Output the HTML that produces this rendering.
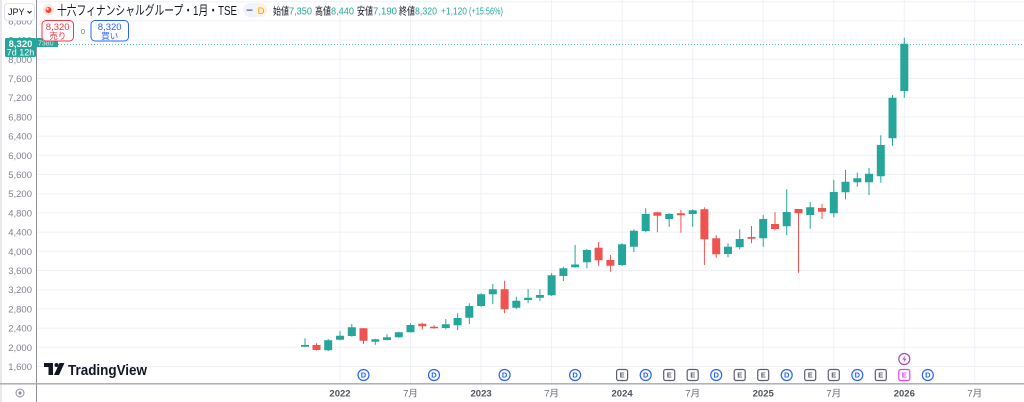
<!DOCTYPE html>
<html><head><meta charset="utf-8"><style>
html,body{margin:0;padding:0;background:#fff;}
body{width:1024px;height:402px;overflow:hidden;position:relative;}
svg{position:absolute;left:0;top:0;font-family:"Liberation Sans","Noto Sans CJK JP",sans-serif;}
</style></head><body>
<svg width="1024" height="402" viewBox="0 0 1024 402" xmlns="http://www.w3.org/2000/svg">
<rect x="0" y="0" width="1024" height="402" fill="#fff"/>
<rect x="0" y="0" width="2" height="402" fill="#e6e8ee"/>
<!-- horizontal grid -->
<g stroke="#eef1f7" stroke-width="1">
<line x1="37" x2="1024" y1="366.5" y2="366.5"/>
<line x1="37" x2="1024" y1="347.3" y2="347.3"/>
<line x1="37" x2="1024" y1="328.1" y2="328.1"/>
<line x1="37" x2="1024" y1="308.9" y2="308.9"/>
<line x1="37" x2="1024" y1="289.7" y2="289.7"/>
<line x1="37" x2="1024" y1="270.5" y2="270.5"/>
<line x1="37" x2="1024" y1="251.3" y2="251.3"/>
<line x1="37" x2="1024" y1="232.1" y2="232.1"/>
<line x1="37" x2="1024" y1="212.9" y2="212.9"/>
<line x1="37" x2="1024" y1="193.7" y2="193.7"/>
<line x1="37" x2="1024" y1="174.5" y2="174.5"/>
<line x1="37" x2="1024" y1="155.3" y2="155.3"/>
<line x1="37" x2="1024" y1="136.1" y2="136.1"/>
<line x1="37" x2="1024" y1="116.9" y2="116.9"/>
<line x1="37" x2="1024" y1="97.7" y2="97.7"/>
<line x1="37" x2="1024" y1="78.5" y2="78.5"/>
<line x1="37" x2="1024" y1="59.3" y2="59.3"/>
<line x1="37" x2="1024" y1="40.1" y2="40.1"/>
<line x1="37" x2="1024" y1="20.9" y2="20.9"/>
<line x1="37" x2="1024" y1="1.7" y2="1.7"/>
</g>
<!-- vertical grid -->
<g stroke="#eef1f7" stroke-width="1">
<line x1="340" x2="340" y1="0" y2="383"/>
<line x1="410.5" x2="410.5" y1="0" y2="383"/>
<line x1="481.1" x2="481.1" y1="0" y2="383"/>
<line x1="551.6" x2="551.6" y1="0" y2="383"/>
<line x1="622.1" x2="622.1" y1="0" y2="383"/>
<line x1="692.7" x2="692.7" y1="0" y2="383"/>
<line x1="763.2" x2="763.2" y1="0" y2="383"/>
<line x1="833.8" x2="833.8" y1="0" y2="383"/>
<line x1="904.3" x2="904.3" y1="0" y2="383"/>
<line x1="974.8" x2="974.8" y1="0" y2="383"/>
</g>
<!-- y labels -->
<g font-size="9.5" fill="#80838e" text-anchor="end">
<text x="32" y="370">1,600</text>
<text x="32" y="350.8">2,000</text>
<text x="32" y="331.6">2,400</text>
<text x="32" y="312.4">2,800</text>
<text x="32" y="293.2">3,200</text>
<text x="32" y="274">3,600</text>
<text x="32" y="254.8">4,000</text>
<text x="32" y="235.6">4,400</text>
<text x="32" y="216.4">4,800</text>
<text x="32" y="197.2">5,200</text>
<text x="32" y="178">5,600</text>
<text x="32" y="158.8">6,000</text>
<text x="32" y="139.6">6,400</text>
<text x="32" y="120.4">6,800</text>
<text x="32" y="101.2">7,200</text>
<text x="32" y="82">7,600</text>
<text x="32" y="62.8">8,000</text>
<text x="32" y="43.6">8,400</text>
<text x="32" y="24.4">8,800</text>
</g>
<!-- axis lines -->
<line x1="36.5" x2="36.5" y1="0" y2="402" stroke="#8d909b" stroke-width="1"/>
<line x1="0" x2="1024" y1="383.8" y2="383.8" stroke="#a3a6af" stroke-width="1.4"/>
<!-- price dotted line -->
<line x1="37" x2="1024" y1="44.5" y2="44.5" stroke="#26a69a" stroke-width="1" stroke-dasharray="1 2" opacity="0.8"/>
<!-- candles -->
<path fill="#26a69a" d="M304.5 338.3h1V347h-1zM301 345h8V346.7h-8z
M327.7 339h1V351h-1zM324.2 340.3h8V350.3h-8z
M339.5 331h1V340.3h-1zM336 335.7h8V339.7h-8z
M351.3 324h1V336.7h-1zM347.8 327.3h8V336h-8z
M374.8 338.7h1V344.7h-1zM371.3 339.3h8V341.7h-8z
M386.5 334.3h1V340.5h-1zM383 337.3h8V340h-8z
M398.3 331.7h1V337.7h-1zM394.8 332.3h8V337.3h-8z
M410 323.3h1V332.5h-1zM406.5 325h8V332.3h-8z
M445.3 319h1V329.3h-1zM441.8 324.3h8V328h-8z
M457.1 313.3h1V330h-1zM453.6 318h8V325.3h-8z
M468.8 303.3h1V324h-1zM465.3 306h8V317.7h-8z
M480.6 293.3h1V306.7h-1zM477.1 294.3h8V306h-8z
M492.3 284h1V304.3h-1zM488.8 289.3h8V294.3h-8z
M515.8 296.7h1V309h-1zM512.3 300.7h8V307.7h-8z
M527.6 289h1V303.3h-1zM524.1 297.7h8V300h-8z
M539.4 289.3h1V300.7h-1zM535.9 295h8V297.7h-8z
M551.1 273.3h1V296h-1zM547.6 275.3h8V295.3h-8z
M562.9 266.7h1V281h-1zM559.4 268.3h8V276h-8z
M574.6 245h1V267.7h-1zM571.1 264.5h8V267.3h-8z
M586.4 249h1V268.3h-1zM582.9 250h8V262.3h-8z
M621.6 243.3h1V266h-1zM618.1 244.3h8V265h-8z
M633.4 229.3h1V252.3h-1zM629.9 230.7h8V246.7h-8z
M645.2 208.3h1V232.3h-1zM641.7 214h8V231h-8z
M668.7 213.3h1V226.7h-1zM665.2 214h8V219h-8z
M692.2 209.3h1V226.7h-1zM688.7 210.3h8V214h-8z
M727.5 243.3h1V257.3h-1zM724 246.7h8V254h-8z
M739.2 229.3h1V249.3h-1zM735.7 239h8V247.3h-8z
M762.7 215h1V246.7h-1zM759.2 219h8V238.3h-8z
M786.2 189.3h1V235h-1zM782.7 212h8V226.3h-8z
M809.7 202h1V228.7h-1zM806.2 207.3h8V215h-8z
M833.3 180h1V217.3h-1zM829.8 192h8V213.3h-8z
M845 170h1V199.3h-1zM841.5 181.7h8V192.3h-8z
M856.8 172.7h1V186.7h-1zM853.3 178.3h8V182.3h-8z
M868.5 168h1V195h-1zM865 173.7h8V182.3h-8z
M880.3 135.3h1V182.7h-1zM876.8 145h8V176.3h-8z
M892 95h1V145.7h-1zM888.5 97.7h8V138.3h-8z
M903.8 37.7h1V97.7h-1zM900.3 43.7h8V91h-8z"/>
<path fill="#ef5350" d="M316 343.3h1V350.5h-1zM312.5 345h8V350h-8z
M363 328h1V344h-1zM359.5 328.3h8V340.7h-8z
M421.8 322.7h1V329.3h-1zM418.3 323.7h8V326.3h-8z
M433.5 325h1V328.7h-1zM430 326.7h8V328.3h-8z
M504.1 280.7h1V313.3h-1zM500.6 289.3h8V309.3h-8z
M598.1 242h1V265.7h-1zM594.6 247.7h8V260.3h-8z
M609.9 255h1V271.7h-1zM606.4 260h8V265.7h-8z
M656.9 211.7h1V232.3h-1zM653.4 212.3h8V215.7h-8z
M680.4 210h1V232.7h-1zM676.9 213.3h8V215.3h-8z
M703.9 207.3h1V265h-1zM700.4 209.3h8V239.3h-8z
M715.7 235h1V257.7h-1zM712.2 238.3h8V254.3h-8z
M751 226h1V243.3h-1zM747.5 237h8V238.7h-8z
M774.5 212.3h1V230.5h-1zM771 224h8V229h-8z
M798 209h1V272.7h-1zM794.5 209h8V213.3h-8z
M821.5 203.7h1V219h-1zM818 208h8V211.7h-8z"/>
<!-- D markers -->
<g fill="#fff" stroke="#2962ff" stroke-width="1.2">
<circle cx="363.5" cy="375" r="5.5"/><circle cx="434" cy="375" r="5.5"/><circle cx="504.6" cy="375" r="5.5"/>
<circle cx="575.1" cy="375" r="5.5"/><circle cx="645.7" cy="375" r="5.5"/><circle cx="716.2" cy="375" r="5.5"/>
<circle cx="786.7" cy="375" r="5.5"/><circle cx="857.3" cy="375" r="5.5"/><circle cx="927.8" cy="375" r="5.5"/>
</g>
<g fill="#2962ff" font-size="7.5" text-anchor="middle" font-weight="bold">
<text x="363.5" y="377.7">D</text><text x="434" y="377.7">D</text><text x="504.6" y="377.7">D</text>
<text x="575.1" y="377.7">D</text><text x="645.7" y="377.7">D</text><text x="716.2" y="377.7">D</text>
<text x="786.7" y="377.7">D</text><text x="857.3" y="377.7">D</text><text x="927.8" y="377.7">D</text>
</g>
<!-- E markers -->
<g fill="#fff" stroke="#5d606b" stroke-width="1.2">
<rect x="616.6" y="369.5" width="11" height="11" rx="2"/><rect x="663.7" y="369.5" width="11" height="11" rx="2"/>
<rect x="687.2" y="369.5" width="11" height="11" rx="2"/><rect x="734.2" y="369.5" width="11" height="11" rx="2"/>
<rect x="757.7" y="369.5" width="11" height="11" rx="2"/><rect x="804.7" y="369.5" width="11" height="11" rx="2"/>
<rect x="828.3" y="369.5" width="11" height="11" rx="2"/><rect x="875.3" y="369.5" width="11" height="11" rx="2"/>
</g>
<g fill="#5d606b" font-size="7.5" text-anchor="middle" font-weight="bold">
<text x="622.1" y="377.7">E</text><text x="669.2" y="377.7">E</text><text x="692.7" y="377.7">E</text>
<text x="739.7" y="377.7">E</text><text x="763.2" y="377.7">E</text><text x="810.2" y="377.7">E</text>
<text x="833.8" y="377.7">E</text><text x="880.8" y="377.7">E</text>
</g>
<rect x="898.8" y="369.5" width="11" height="11" rx="2" fill="#fff" stroke="#e040fb" stroke-width="1.2"/>
<text x="904.3" y="377.7" fill="#e040fb" font-size="7.5" text-anchor="middle" font-weight="bold">E</text>
<circle cx="904.3" cy="359" r="5.5" fill="#fff" stroke="#ab47bc" stroke-width="1.2"/>
<path d="M905.3 355.3l-3 4.2h2.2l-1 3.3l3-4.2h-2.2z" fill="#ab47bc"/>
<!-- x labels -->
<g font-size="9.5" text-anchor="middle">
<text x="340" y="396.5" font-weight="bold" fill="#50535e">2022</text>
<text x="410.5" y="396.5" fill="#6a6d78">7月</text>
<text x="481.1" y="396.5" font-weight="bold" fill="#50535e">2023</text>
<text x="551.6" y="396.5" fill="#6a6d78">7月</text>
<text x="622.1" y="396.5" font-weight="bold" fill="#50535e">2024</text>
<text x="692.7" y="396.5" fill="#6a6d78">7月</text>
<text x="763.2" y="396.5" font-weight="bold" fill="#50535e">2025</text>
<text x="833.8" y="396.5" fill="#6a6d78">7月</text>
<text x="904.3" y="396.5" font-weight="bold" fill="#50535e">2026</text>
<text x="974.8" y="396.5" fill="#6a6d78">7月</text>
</g>
<!-- gear -->
<circle cx="20" cy="393" r="4" fill="none" stroke="#8d909b" stroke-width="1"/>
<circle cx="20" cy="393" r="1.6" fill="#8d909b"/>
<!-- TradingView logo -->
<path d="M44 363h9v12h-4.5v-8H44z" fill="#131722"/>
<circle cx="56.5" cy="365" r="2" fill="#131722"/>
<path d="M59.5 363h5l-5.5 12h-5z" fill="#131722"/>
<text x="68" y="375" font-size="15" font-weight="bold" fill="#131722" textLength="79" lengthAdjust="spacingAndGlyphs">TradingView</text>
<!-- price label -->
<rect x="36" y="38" width="22" height="9" fill="#26a69a"/>
<text x="38" y="45.3" font-size="7" fill="#d6f0ec">7380</text>
<rect x="5" y="38" width="31" height="19" rx="1.5" fill="#26a69a"/>
<text x="20.5" y="47" font-size="9.5" font-weight="bold" fill="#fff" text-anchor="middle">8,320</text>
<text x="20.5" y="55.5" font-size="9" fill="#fff" text-anchor="middle">7d 12h</text>
<!-- header -->
<rect x="4.5" y="3.5" width="30" height="17" rx="3" fill="#fff" stroke="#e0e3eb"/>
<text x="8" y="15" font-size="9" fill="#131722">JPY</text>
<path d="M27.5 11l2 2l2-2" fill="none" stroke="#131722" stroke-width="1"/>
<circle cx="48.5" cy="10" r="5.5" fill="#fde4dc"/>
<circle cx="48.5" cy="10" r="3" fill="#e8492f"/>
<circle cx="47.5" cy="9" r="1.2" fill="#fde4dc"/>
<text x="57" y="15" font-size="13" fill="#131722" textLength="180" lengthAdjust="spacingAndGlyphs">十六フィナンシャルグループ・1月・TSE</text>
<rect x="243" y="3" width="24" height="14" rx="7" fill="#f0f3fa"/>
<rect x="255" y="3" width="12" height="14" rx="6" fill="#fff3e0"/>
<rect x="246.5" y="9.5" width="6" height="1.3" fill="#6a6d78"/>
<text x="261" y="14" font-size="9.5" fill="#ff9800" text-anchor="middle">D</text>
<g font-size="10.5">
<text x="273" y="14.5" fill="#131722" textLength="16" lengthAdjust="spacingAndGlyphs">始値</text>
<text x="289" y="14.5" fill="#26a69a" textLength="23" lengthAdjust="spacingAndGlyphs">7,350</text>
<text x="315" y="14.5" fill="#131722" textLength="16" lengthAdjust="spacingAndGlyphs">高値</text>
<text x="331" y="14.5" fill="#26a69a" textLength="23" lengthAdjust="spacingAndGlyphs">8,440</text>
<text x="357" y="14.5" fill="#131722" textLength="16" lengthAdjust="spacingAndGlyphs">安値</text>
<text x="373" y="14.5" fill="#26a69a" textLength="24" lengthAdjust="spacingAndGlyphs">7,190</text>
<text x="399" y="14.5" fill="#131722" textLength="16" lengthAdjust="spacingAndGlyphs">終値</text>
<text x="415" y="14.5" fill="#26a69a" textLength="22" lengthAdjust="spacingAndGlyphs">8,320</text>
<text x="441" y="14.5" fill="#26a69a" textLength="26" lengthAdjust="spacingAndGlyphs">+1,120</text>
<text x="469" y="14.5" fill="#26a69a" textLength="34" lengthAdjust="spacingAndGlyphs">(+15.56%)</text>
</g>
<!-- buy/sell -->
<rect x="42" y="20.5" width="31.5" height="20.5" rx="4" fill="#fff" stroke="#f23645" stroke-width="1"/>
<text x="57.7" y="30" font-size="9.5" fill="#f23645" text-anchor="middle">8,320</text>
<text x="57.7" y="39" font-size="8.5" fill="#f23645" text-anchor="middle">売り</text>
<text x="83" y="34" font-size="7.5" fill="#6a6d78" text-anchor="middle">0</text>
<rect x="91" y="20.5" width="37.5" height="20.5" rx="4" fill="#fff" stroke="#2962ff" stroke-width="1"/>
<text x="109.7" y="30" font-size="9.5" fill="#2962ff" text-anchor="middle">8,320</text>
<text x="109.7" y="39" font-size="8.5" fill="#2962ff" text-anchor="middle">買い</text>
</svg>
</body></html>
